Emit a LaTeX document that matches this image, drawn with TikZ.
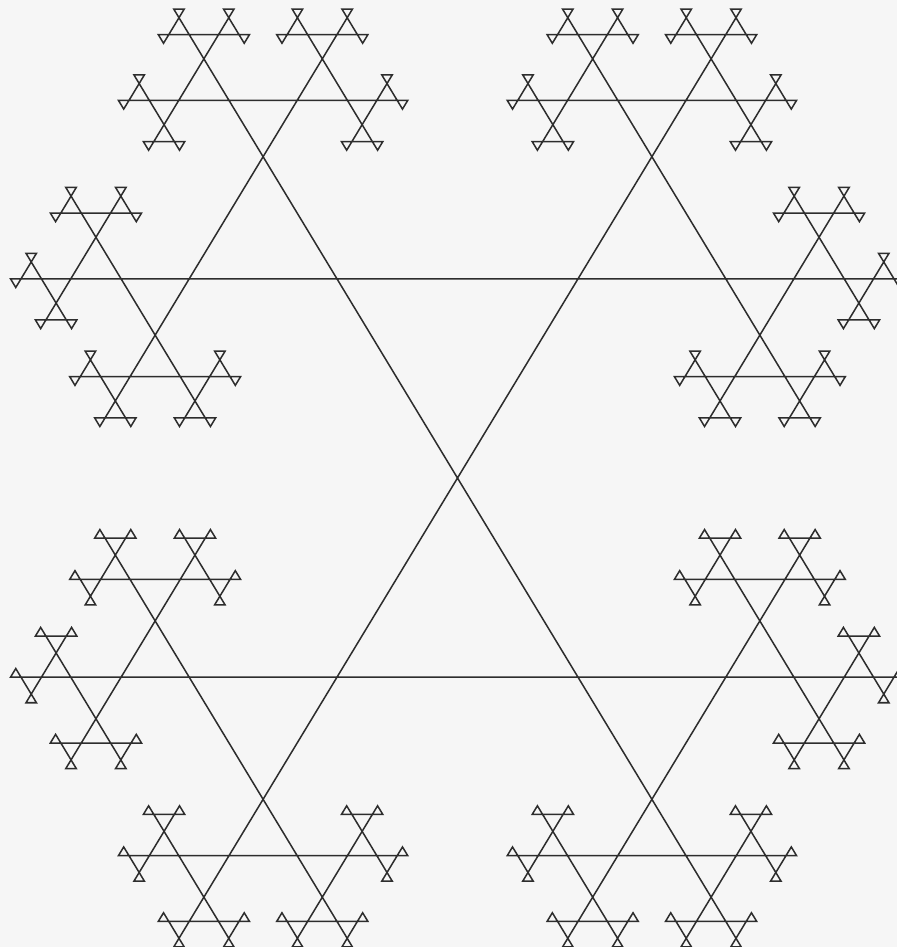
\documentclass[tikz,border=0pt]{standalone}
\usepackage{tikz}
\definecolor{InkGray}{RGB}{45,45,45}
\definecolor{PaperGray}{RGB}{246,246,246}
% side of the triangles, one per level of the tree
\def\sidelist{{230,141,65,48,28,19.5,10}}
% #1,#2: corner shared with the parent, #3: direction into the triangle, #4: level
\newcommand{\branch}[4]{%
  \ifnum#4<7
  \begingroup
    \pgfmathsetmacro\px{#1}%
    \pgfmathsetmacro\py{#2}%
    \pgfmathsetmacro\ang{#3}%
    \pgfmathsetmacro\side{\sidelist[#4]}%
    \pgfmathsetmacro\ax{\px+\side*cos(\ang+30)}%
    \pgfmathsetmacro\ay{\py+\side*sin(\ang+30)}%
    \pgfmathsetmacro\bx{\px+\side*cos(\ang-30)}%
    \pgfmathsetmacro\by{\py+\side*sin(\ang-30)}%
    \draw[fractal] (\px,\py) -- (\ax,\ay) -- (\bx,\by) -- cycle;
    \pgfmathtruncatemacro\lvl{#4+1}%
    \pgfmathsetmacro\anga{\ang+60}%
    \pgfmathsetmacro\angb{\ang-60}%
    \branch{\ax}{\ay}{\anga}{\lvl}%
    \branch{\bx}{\by}{\angb}{\lvl}%
  \endgroup
  \fi}

\begin{document}
\begin{tikzpicture}[x=0.01cm,y=-0.01cm,
 fractal/.style={draw=InkGray,line width=0.43pt,line join=miter}]
\useasboundingbox (0,0) rectangle (897,947);
\fill[PaperGray] (0,0) rectangle (897,947);
\clip (0,0) rectangle (897,947);
\begin{scope}[shift={(457.5,478)},xscale=1.048,yscale=-1]
\branch{0}{0}{90}{0}
\branch{0}{0}{-90}{0}
\end{scope}
\end{tikzpicture}
\end{document}
